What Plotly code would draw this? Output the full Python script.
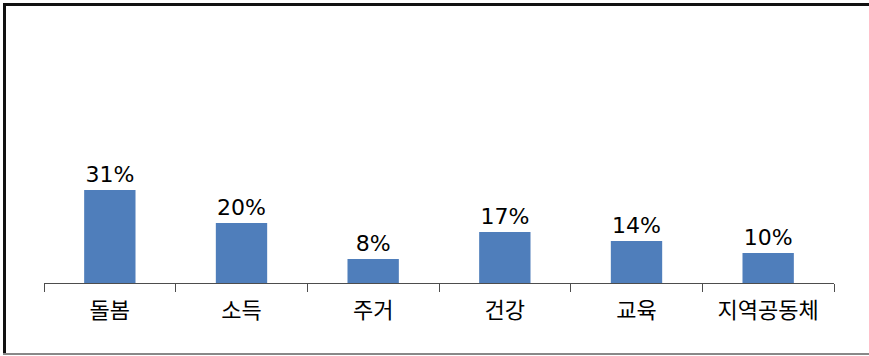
import plotly.graph_objects as go

categories = ["돌봄", "소득", "주거", "건강", "교육", "지역공동체"]
values = [31, 20, 8, 17, 14, 10]
labels = [f"{v}%" for v in values]

FONT = "DejaVu Sans, Noto Sans CJK KR"
CJK = "Noto Sans CJK KR"
W, H = 869, 356
ML, MR, MT, MB = 44, 35, 20, 73
PW, PH = W - ML - MR, H - MT - MB

def px_x(x):
    return (x - ML) / PW

def px_y(y):
    return (H - MB - y) / PH

fig = go.Figure(go.Bar(
    x=categories, y=values, text=labels, textposition="outside",
    textfont=dict(family=FONT, size=22, color="#000000"),
    constraintext="none",
    marker=dict(color="#4F7EBB", line=dict(width=0)),
    cliponaxis=False,
))

fig.update_layout(
    width=W, height=H,
    margin=dict(l=ML, r=MR, t=MT, b=MB),
    paper_bgcolor="white", plot_bgcolor="white",
    bargap=0.61,
    showlegend=False,
    xaxis=dict(
        type="category", range=[-0.5, 5.5],
        showline=True, linecolor="#4d4d4d", linewidth=1,
        ticks="outside", tickson="boundaries", ticklen=8, tickcolor="#4d4d4d", tickwidth=1,
        tickfont=dict(family=CJK, size=22, color="#000000"),
        showgrid=False, zeroline=False,
        ticklabelstandoff=8,
    ),
    yaxis=dict(range=[0, 263 / 3], visible=False, showgrid=False, zeroline=False),
    shapes=[
        dict(type="line", xref="paper", yref="paper",
             x0=px_x(3), x1=px_x(870), y0=px_y(4.5), y1=px_y(4.5),
             line=dict(color="#111111", width=3)),
        dict(type="line", xref="paper", yref="paper",
             x0=px_x(4.5), x1=px_x(4.5), y0=px_y(3), y1=px_y(355),
             line=dict(color="#111111", width=3)),
        dict(type="line", xref="paper", yref="paper",
             x0=px_x(3), x1=px_x(870), y0=px_y(354), y1=px_y(354),
             line=dict(color="#888888", width=2)),
    ],
)

fig.write_html("out.html")
